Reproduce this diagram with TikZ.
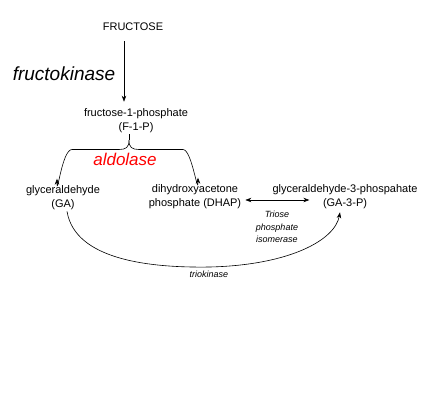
\documentclass[tikz,border=0pt]{standalone}
\usepackage{fontspec}
\setmainfont{Liberation Sans}
\usepackage{tikz}
\usetikzlibrary{arrows.meta}

\begin{document}
\begin{tikzpicture}[x=1pt, y=-1pt,
    metab/.style={font=\fontsize{11}{14}\selectfont, align=center, inner sep=1pt},
    enzyme/.style={font=\fontsize{9}{12.5}\selectfont\itshape, align=center, inner sep=1pt},
    flow/.style={-{Stealth[length=6pt, width=4.5pt]}, line width=0.6pt}]
    \useasboundingbox (0,0) rectangle (429,415);

    % --- 1. metabolites ---
    \node[metab] (fru)  at (133,27)  {FRUCTOSE};
    \node[metab] (f1p)  at (136,121) {fructose-1-phosphate\\(F-1-P)};
    \node[metab] (ga)   at (63,198)  {glyceraldehyde\\(GA)};
    \node[metab] (dhap) at (195,197) {dihydroxyacetone\\phosphate (DHAP)};
    \node[metab] (ga3p) at (345,197) {glyceraldehyde-3-phospahate\\(GA-3-P)};

    % --- 2. enzymes ---
    \node[font=\fontsize{19}{22}\selectfont\itshape, inner sep=0pt] (fk) at (64,74) {fructokinase};
    \node[font=\fontsize{17}{20}\selectfont\itshape, red, inner sep=0pt] (ald) at (125,159) {aldolase};
    \node[enzyme] (tpi) at (277,227) {Triose\\phosphate\\isomerase};
    \node[enzyme] (tk)  at (209,274) {triokinase};

    % --- 3. fructose -> F-1-P ---
    \draw[flow] ([xshift=-9pt, yshift=-9pt]fru.south) -- ([xshift=-12pt, yshift=6pt]f1p.north);

    % --- 4. aldolase split (brace) ---
    \coordinate (peak) at ([xshift=-7pt, yshift=-6pt]f1p.south);
    \draw[line width=0.6pt] ([xshift=-7pt]f1p.south) -- (peak);
    \draw[flow] (peak) .. controls ++(0,7) and (126,149.5) .. (119,149.5) -- (72,149.5)
        .. controls (62,149.5) and ([xshift=-6pt, yshift=-14pt]ga.north) .. ([xshift=-6pt, yshift=6pt]ga.north);
    \draw[flow] (peak) .. controls ++(0,7) and (132,149.5) .. (139,149.5) -- (183,149.5)
        .. controls (192,149.5) and ([xshift=3pt, yshift=-14pt]dhap.north) .. ([xshift=3pt, yshift=6pt]dhap.north);

    % --- 5. triose phosphate isomerase ---
    \draw[{Stealth[length=6pt, width=4.5pt]}-{Stealth[length=6pt, width=4.5pt]}, line width=0.6pt]
        ([xshift=3pt, yshift=-3pt]dhap.east) -- ([xshift=38pt, yshift=-3pt]ga3p.west);

    % --- 6. triokinase ---
    \draw[flow] ([xshift=4pt]ga.south) .. controls (75,260) and (150,268) .. (210,267)
        .. controls (290,265) and (335,240) .. ([xshift=-5pt, yshift=-2pt]ga3p.south);

\end{tikzpicture}
\end{document}
